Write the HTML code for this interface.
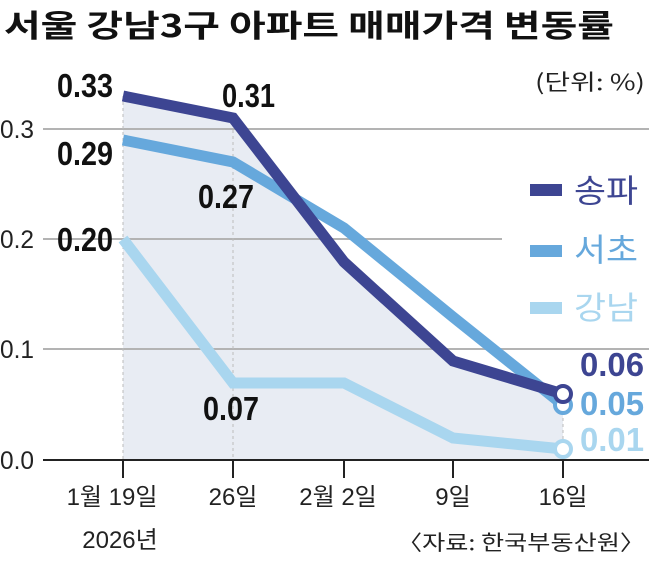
<!DOCTYPE html>
<html><head><meta charset="utf-8"><style>
body{margin:0;background:#fff;}
svg text{font-family:"Liberation Sans","Noto Sans CJK KR",sans-serif;}
</style></head><body>
<svg width="649" height="558" viewBox="0 0 649 558" xmlns="http://www.w3.org/2000/svg">
<rect width="649" height="558" fill="#fff"/>
<text x="4" y="37" font-size="31" font-weight="bold" fill="#111" style="font-family:'Noto Sans CJK KR',sans-serif" textLength="610" lengthAdjust="spacingAndGlyphs">서울 강남3구 아파트 매매가격 변동률</text>
<text x="645" y="90" font-size="22" fill="#222" text-anchor="end" style="font-family:'Noto Sans CJK KR',sans-serif" textLength="110" lengthAdjust="spacingAndGlyphs">(단위: %)</text>
<polygon points="123,96 233,118 344,262 453,361 563,394 563,460 123,460" fill="#e8ecf3"/>
<g stroke="#b3b3b3" stroke-width="2">
<line x1="43" y1="129" x2="649" y2="129"/>
<line x1="43" y1="239" x2="502" y2="239"/>
<line x1="43" y1="349" x2="649" y2="349"/>
</g>
<g stroke="#bbb" stroke-width="1" stroke-dasharray="3,3">
<line x1="123" y1="96" x2="123" y2="460"/>
<line x1="233" y1="118" x2="233" y2="460"/>
<line x1="563" y1="394" x2="563" y2="460"/>
</g>
<line x1="43" y1="460" x2="649" y2="460" stroke="#222" stroke-width="2"/>
<g stroke="#222" stroke-width="2">
<line x1="123" y1="460" x2="123" y2="478"/><line x1="233" y1="460" x2="233" y2="478"/><line x1="344" y1="460" x2="344" y2="478"/><line x1="453" y1="460" x2="453" y2="478"/><line x1="563" y1="460" x2="563" y2="478"/>
</g>
<g font-size="25" fill="#222">
<text x="0" y="138" textLength="34" lengthAdjust="spacingAndGlyphs">0.3</text><text x="0" y="248" textLength="34" lengthAdjust="spacingAndGlyphs">0.2</text><text x="0" y="358" textLength="34" lengthAdjust="spacingAndGlyphs">0.1</text><text x="0" y="469" textLength="34" lengthAdjust="spacingAndGlyphs">0.0</text>
</g>
<g fill="none" stroke-width="11" stroke-linejoin="miter">
<polyline points="123,239 233,383 344,383 453,438 563,449" stroke="#a9d6ef"/>
<polyline points="123,140 233,162 344,228 453,317 563,405" stroke="#66a8dc"/>
<polyline points="123,96 233,118 344,262 453,361 563,394" stroke="#3d4592"/>
</g>
<circle cx="563" cy="449" r="8" fill="#fff" stroke="#a9d6ef" stroke-width="4"/>
<circle cx="563" cy="405" r="8" fill="#fff" stroke="#66a8dc" stroke-width="4"/>
<circle cx="563" cy="394" r="8" fill="#fff" stroke="#3d4592" stroke-width="4"/>
<g font-size="33" font-weight="bold" fill="#111">
<text x="57" y="97" textLength="56" lengthAdjust="spacingAndGlyphs">0.33</text>
<text x="222" y="107" textLength="53" lengthAdjust="spacingAndGlyphs">0.31</text>
<text x="57" y="165" textLength="56" lengthAdjust="spacingAndGlyphs">0.29</text>
<text x="198" y="208" textLength="56" lengthAdjust="spacingAndGlyphs">0.27</text>
<text x="57" y="251" textLength="56" lengthAdjust="spacingAndGlyphs">0.20</text>
<text x="203" y="420" textLength="56" lengthAdjust="spacingAndGlyphs">0.07</text>
<text x="580" y="376" fill="#3d4592" textLength="64" lengthAdjust="spacingAndGlyphs">0.06</text>
<text x="580" y="415" fill="#66a8dc" textLength="64" lengthAdjust="spacingAndGlyphs">0.05</text>
<text x="580" y="451" fill="#a9d6ef" textLength="64" lengthAdjust="spacingAndGlyphs">0.01</text>
</g>
<rect x="530" y="184" width="32" height="12" fill="#3d4592"/>
<rect x="530" y="245" width="32" height="12" fill="#66a8dc"/>
<rect x="530" y="302" width="32" height="12" fill="#a9d6ef"/>
<g font-size="32" style="font-family:'Noto Sans CJK KR',sans-serif">
<text x="574" y="202" fill="#3d4592" textLength="64" lengthAdjust="spacingAndGlyphs">송파</text>
<text x="574" y="261" fill="#66a8dc" textLength="64" lengthAdjust="spacingAndGlyphs">서초</text>
<text x="574" y="319" fill="#a9d6ef" textLength="64" lengthAdjust="spacingAndGlyphs">강남</text>
</g>
<g font-size="24" fill="#222" text-anchor="middle" style="font-family:'Liberation Sans','Noto Sans CJK KR',sans-serif">
<text x="112" y="505">1월 19일</text>
<text x="233" y="505">26일</text>
<text x="338" y="505">2월 2일</text>
<text x="453" y="505">9일</text>
<text x="563" y="505">16일</text>
<text x="120" y="548">2026년</text>
</g>
<text x="645" y="550" font-size="21" fill="#222" text-anchor="end" style="font-family:'Noto Sans CJK KR',sans-serif" textLength="248" lengthAdjust="spacingAndGlyphs">〈자료: 한국부동산원〉</text>
</svg>
</body></html>
